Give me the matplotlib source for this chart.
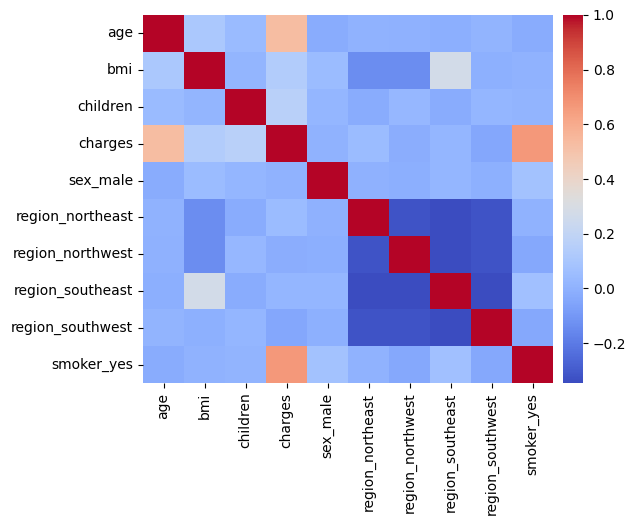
import matplotlib
matplotlib.use("Agg")
import matplotlib.pyplot as plt
import numpy as np
import pandas as pd
import seaborn as sns

labels = ["age", "bmi", "children", "charges", "sex_male", "region_northeast",
          "region_northwest", "region_southeast", "region_southwest", "smoker_yes"]

# upper-triangle correlations, row by row
age = [0.109, 0.042, 0.527, -0.021, 0.002, -0.000, -0.012, 0.010, -0.025]
bmi = [0.013, 0.133, 0.046, -0.138, -0.136, 0.270, -0.006, 0.004]
children = [0.161, 0.017, -0.023, 0.025, -0.023, 0.022, 0.008]
charges = [0.006, 0.044, -0.018, 0.018, -0.043, 0.665]
sex_male = [-0.002, -0.011, 0.017, -0.005, 0.076]
region_northeast = [-0.320, -0.346, -0.320, 0.003]
region_northwest = [-0.346, -0.321, -0.037]
region_southeast = [-0.346, 0.069]
region_southwest = [-0.037]

rows = [age, bmi, children, charges, sex_male, region_northeast,
        region_northwest, region_southeast, region_southwest]

n = len(labels)
corr = np.eye(n)
for i, row in enumerate(rows):
    for k, v in enumerate(row):
        j = i + 1 + k
        corr[i, j] = v
        corr[j, i] = v
df = pd.DataFrame(corr, index=labels, columns=labels)

fig = plt.figure(figsize=(6.35, 5.26), dpi=100)
W, H = 635, 526
ax = fig.add_axes([143 / W, 1 - 383 / H, 410 / W, 368 / H])
cax = fig.add_axes([563 / W, 1 - 383 / H, 20 / W, 368 / H])
sns.heatmap(df, cmap="coolwarm", ax=ax, cbar_ax=cax)
fig.savefig("out.png", dpi=100)
